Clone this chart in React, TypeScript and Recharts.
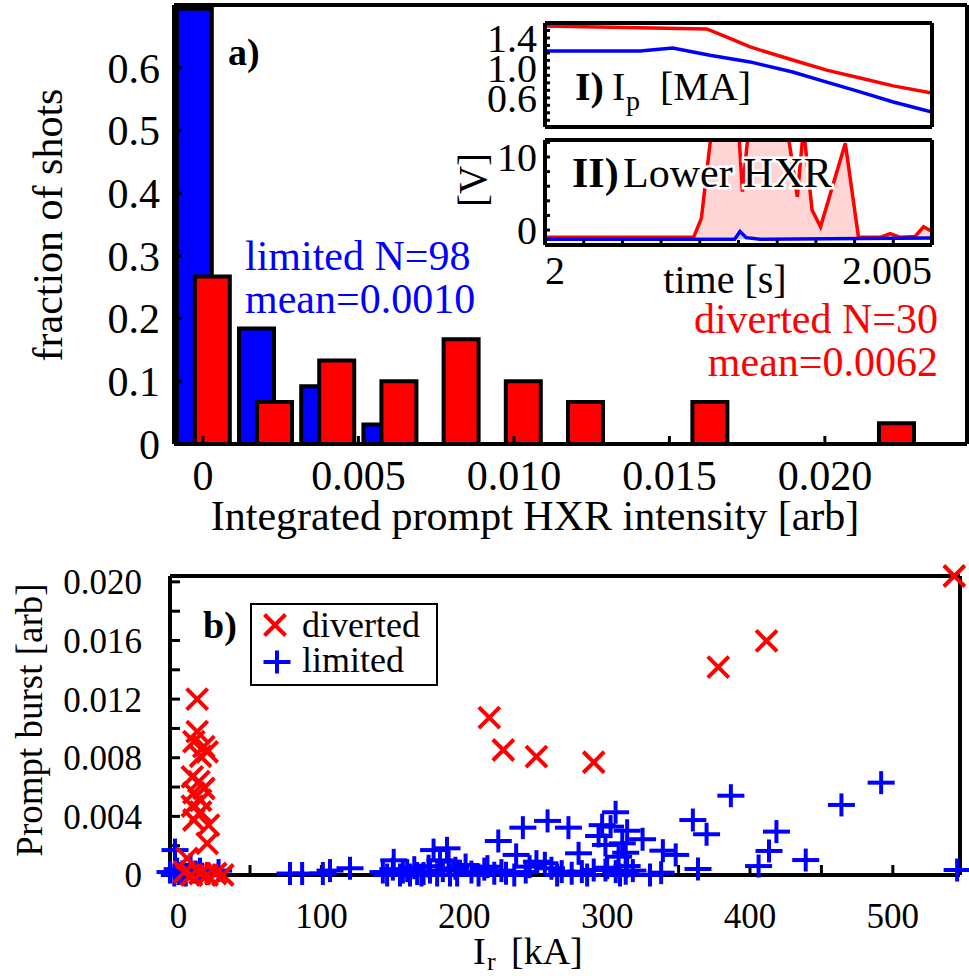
import React from 'react';
import {
  Bar, XAxis, YAxis, ScatterChart, Scatter, LineChart, Line,
  ComposedChart, Area, Legend,
} from 'recharts';

const FONT = "'Liberation Serif', 'Times New Roman', Times, serif";
const RED = '#ff0000';
const BLUE = '#0000ff';
const PINK = '#ffd4d4';
const LIGHTBLUE = '#c8c8ff';

// ---------- Panel a: histogram of integrated prompt HXR intensity ----------
const HIST_BINS = [0, 0.002, 0.004, 0.006, 0.008, 0.010, 0.012, 0.014, 0.016, 0.018, 0.020, 0.022];
const HIST_LIMITED = [0.694, 0.184, 0.092, 0.031, null, null, null, null, null, null, null, null];
const HIST_DIVERTED = [0.267, 0.067, 0.133, 0.100, 0.167, 0.100, 0.067, null, 0.067, null, null, 0.033];
const HIST_X_TICKS = [0, 0.005, 0.010, 0.015, 0.020];
const HIST_X_DOMAIN = [-0.00093, 0.02457];
const HIST_Y_TICKS = [0, 0.1, 0.2, 0.3, 0.4, 0.5, 0.6];
const HIST_Y_DOMAIN = [0, 0.7];

// ---------- Inset I: plasma current [MA] vs time [s] ----------
const TIME_DOMAIN = [2.0, 2.005];
const TIME_TICKS = [2.0, 2.0005, 2.001, 2.0015, 2.002, 2.0025, 2.003, 2.0035, 2.004, 2.0045, 2.005];
const IP_DOMAIN = [0.21, 1.6];
const IP_TICKS = [0.3, 0.4, 0.5, 0.6, 0.7, 0.8, 0.9, 1.0, 1.1, 1.2, 1.3, 1.4, 1.5];
const IP_LABELED = [0.6, 1.0, 1.4];
const IP_DIVERTED = [
  [2.0, 1.56], [2.00209, 1.52], [2.00235, 1.41], [2.00265, 1.28], [2.0032, 1.105],
  [2.00364, 0.97], [2.00407, 0.865], [2.0045, 0.76], [2.005, 0.664],
];
const IP_LIMITED = [
  [2.0, 1.226], [2.00123, 1.226], [2.00165, 1.266], [2.00213, 1.17], [2.00265, 1.08],
  [2.0032, 0.945], [2.00364, 0.81], [2.00407, 0.68], [2.0045, 0.544], [2.005, 0.41],
];

// ---------- Inset II: lower HXR [V] vs time [s] ----------
const HXR_DOMAIN = [-2.05, 12.33];
const HXR_TICKS = [0, 2, 4, 6, 8, 10, 12];
const HXR_LABELED = [0, 10];
const HXR_DIVERTED = [
  [2.0, -1], [2.00192, -1], [2.00202, 1.6], [2.0022, 18], [2.00236, 20], [2.00249, 16],
  [2.00255, 5.25], [2.00267, 18], [2.00291, 22], [2.0031, 16], [2.00326, 4.56], [2.00334, 14],
  [2.00345, 2.74], [2.00356, 0.45], [2.00388, 11.9], [2.00405, -1], [2.00433, -1], [2.00446, -0.5],
  [2.00459, -1], [2.00478, -0.9], [2.00489, 0.45], [2.005, -0.2],
];
const HXR_LIMITED = [
  [2.0, -1.25], [2.00245, -1.25], [2.00252, -0.2], [2.0026, -1.05], [2.00278, -1.25], [2.005, -1.1],
];

// ---------- Panel b: prompt burst vs runaway current ----------
const SC_X_DOMAIN = [-6, 547];
const SC_X_TICKS = [0, 50, 100, 150, 200, 250, 300, 350, 400, 450, 500];
const SC_Y_DOMAIN = [0, 0.0204];
const SC_Y_TICKS = [0, 0.002, 0.004, 0.006, 0.008, 0.010, 0.012, 0.014, 0.016, 0.018, 0.020];

// [I_r kA, prompt burst]
const DIVERTED_POINTS = [
  [543, 0.0204], [411.6, 0.01597], [377.8, 0.01418], [217.5, 0.01074], [227.3, 0.00853],
  [250.5, 0.00808], [290.6, 0.00769], [13, 0.0120], [13, 0.00978], [10.7, 0.0091],
  [17.7, 0.00876], [20, 0.0084], [15.4, 0.0081], [9.6, 0.0067], [14.2, 0.00637],
  [17.7, 0.0059], [10.7, 0.0056], [15.4, 0.0051], [9.6, 0.0047], [15.4, 0.0043],
  [10.7, 0.00375], [21, 0.0034], [20, 0.00216], [6, 0.00114], [4, 0.0002],
  [9, 0.0], [15, 0.0001], [20, 0.0], [26, 0.0001], [31, 0.0],
];
const LIMITED_POINTS = [
  [491.8, 0.0063], [464, 0.00478], [386.6, 0.00541], [360, 0.00375], [369.6, 0.00278],
  [418.5, 0.00296], [413.3, 0.00164], [439, 0.00102], [339, 0.00166], [348, 0.00137],
  [305.9, 0.00428], [302.4, 0.0033], [314, 0.00302], [324.8, 0.00244], [294, 0.00266],
  [310.6, 0.00216], [298.8, 0.00205], [313, 0.00152], [308, 0.00125], [280, 0.00148],
  [272.9, 0.00323], [258.3, 0.00369], [241, 0.00323], [223.8, 0.00232], [236.3, 0.00137],
  [187.9, 0.00182], [178.5, 0.0017], [-2.5, 0.0017], [296.5, 0.0034], [150.6, 0.001],
  [183, 0.001], [406, 0.00061], [363.6, 0.00041], [545, 0.00034], [337.8, 0.00016],
  [314, 0.00061], [306, 0.00023], [298.8, 0.00034], [313, 0.00012], [250.5, 0.00091],
  [245.7, 0.00057], [256.4, 0.0008], [189, 0.00091], [193.8, 0.00046], [200.9, 0.00068],
  [216.2, 0.00057], [221, 0.00012], [229.2, 0.00012], [261, 0.00046], [268.2, 0.00023],
  [275.2, 0.00012], [282.3, 0.00023], [290.6, 0.00034], [-6, 0.0002], [2.6, 0.0002],
  [8.4, 0.0007], [12, 0.0002], [28, 0.0003], [-3, 0.0], [78, 0.0001],
  [86.5, 0.0001], [106, 0.0003], [120, 0.00046], [101, 0.0001], [143, 0.0002],
  [157, 0.0002], [167, 0.0001], [176, 0.0002], [146, 0.0], [162, 0.0],
  [171.5, 0.0001], [181, 0.0], [0, 0.0001], [5, 0.0], [15, 0.0004],
  [20, 0.0001], [-1, 0.0004], [150, 0.0004], [155, 0.0], [160, 0.0003],
  [165, 0.0005], [170, 0.0], [185, 0.0003], [195, 0.0], [205, 0.0002],
  [210, 0.0], [214, 0.0004], [226, 0.0003], [235, 0.0], [243, 0.0002],
  [265, 0.0], [286, 0.0], [300, 0.0005], [309, 0.0], [318, 0.0003],
  [330, 0.0], [175, 0.0006], [190, 0.0],
];

const AXIS = { stroke: '#000', strokeWidth: 4 };
const TICKLINE = { stroke: '#000', strokeWidth: 3 };
const tickStyle = (size: number) => ({ fontSize: size, fill: '#000', fontFamily: FONT });

const near = (a: number, b: number) => Math.abs(a - b) < 1e-9;
const fmtHistX = (v: number) => (near(v, 0) ? '0' : v.toFixed(3));
const fmtHistY = (v: number) => (near(v, 0) ? '0' : v.toFixed(1));
const fmtIp = (v: number) => (IP_LABELED.some((l) => near(l, v)) ? v.toFixed(1) : '');
const fmtHxr = (v: number) => (HXR_LABELED.some((l) => near(l, v)) ? String(v) : '');
const fmtIr = (v: number) => (v % 100 === 0 ? String(v) : '');
const fmtBurst = (v: number) => {
  const k = Math.round(v * 1000);
  if (k === 0) return '0';
  return k % 4 === 0 ? v.toFixed(3) : '';
};

const TimeTick = (props: any) => {
  const { x, y, payload } = props;
  const v = payload.value;
  if (near(v, TIME_DOMAIN[0])) {
    return <text x={x} y={y} dy="0.71em" textAnchor="start" fontSize={40} fontFamily={FONT} fill="#000">2</text>;
  }
  if (near(v, TIME_DOMAIN[1])) {
    return <text x={x} y={y} dy="0.71em" textAnchor="end" fontSize={40} fontFamily={FONT} fill="#000">2.005</text>;
  }
  return <g />;
};

const CrossShape = (props: any) => {
  const { cx, cy } = props;
  const r = 10.5;
  return (
    <g>
      <line x1={cx - r} y1={cy - r} x2={cx + r} y2={cy + r} stroke={RED} strokeWidth={4} />
      <line x1={cx - r} y1={cy + r} x2={cx + r} y2={cy - r} stroke={RED} strokeWidth={4} />
    </g>
  );
};

const PlusShape = (props: any) => {
  const { cx, cy } = props;
  return (
    <g>
      <line x1={cx - 13.5} y1={cy} x2={cx + 13.5} y2={cy} stroke={BLUE} strokeWidth={4} />
      <line x1={cx} y1={cy - 11.5} x2={cx} y2={cy + 11.5} stroke={BLUE} strokeWidth={4} />
    </g>
  );
};

const NoShape = () => <g />;

const LegendBox = () => (
  <svg width={188} height={83} style={{ display: 'block' }}>
    <rect x={1} y={1} width={186} height={81} fill="#fff" stroke="#000" strokeWidth={2} />
    <CrossShape cx={25} cy={22} />
    <text x={52} y={34} fontSize={36} fontFamily={FONT} fill="#000">diverted</text>
    <PlusShape cx={27} cy={59} />
    <text x={52} y={69} fontSize={36} fontFamily={FONT} fill="#000">limited</text>
  </svg>
);

export default function App() {
  const histData = HIST_BINS.map((b, i) => ({ bin: b, limited: HIST_LIMITED[i], diverted: HIST_DIVERTED[i] }));
  const ipDiv = IP_DIVERTED.map(([t, v]) => ({ t, v }));
  const ipLim = IP_LIMITED.map(([t, v]) => ({ t, v }));
  const hxrDiv = HXR_DIVERTED.map(([t, v]) => ({ t, v }));
  const hxrLim = HXR_LIMITED.map(([t, v]) => ({ t, v }));
  const divPts = DIVERTED_POINTS.map(([ir, burst]) => ({ ir, burst }));
  const limPts = LIMITED_POINTS.map(([ir, burst]) => ({ ir, burst }));

  return (
    <div style={{ position: 'absolute', left: 0, top: 0, width: 969, height: 976, background: '#fff', overflow: 'hidden' }}>
      {/* Panel a */}
      <div style={{ position: 'absolute', left: 0, top: 0 }}>
        <ComposedChart width={969} height={545} data={histData} margin={{ top: 4, right: 0, bottom: 0, left: 0 }} barSize={35} barGap={-17}>
          <XAxis xAxisId="num" dataKey="bin" type="number" domain={HIST_X_DOMAIN} allowDataOverflow ticks={HIST_X_TICKS}
            tickFormatter={fmtHistX} height={101} tickSize={-8} tickMargin={24} interval={0}
            axisLine={AXIS} tickLine={TICKLINE} tick={tickStyle(42)} />
          <XAxis xAxisId="numTop" dataKey="bin" orientation="top" type="number" domain={HIST_X_DOMAIN} allowDataOverflow
            ticks={HIST_X_TICKS} height={1} tickSize={-8} tick={false} interval={0} axisLine={AXIS} tickLine={TICKLINE} />
          <YAxis yAxisId="frac" type="number" domain={HIST_Y_DOMAIN} ticks={HIST_Y_TICKS} tickFormatter={fmtHistY}
            width={174} tickSize={-8} tickMargin={22} interval={0} axisLine={AXIS} tickLine={TICKLINE} tick={tickStyle(42)} />
          <YAxis yAxisId="fracR" orientation="right" type="number" domain={HIST_Y_DOMAIN} allowDataOverflow
            ticks={HIST_Y_TICKS} width={2} tickSize={-9} tick={false} interval={0} axisLine={AXIS} tickLine={TICKLINE} />
          <Line xAxisId="numTop" yAxisId="fracR" dataKey="diverted" stroke="none" dot={false} activeDot={false} isAnimationActive={false} />
          <Bar xAxisId="num" yAxisId="frac" dataKey="limited" fill={BLUE} stroke="#000" strokeWidth={4} isAnimationActive={false} />
          <Bar xAxisId="num" yAxisId="frac" dataKey="diverted" fill={RED} stroke="#000" strokeWidth={4} isAnimationActive={false} />
        </ComposedChart>
      </div>

      {/* Inset I: Ip */}
      <div style={{ position: 'absolute', left: 455, top: 13 }}>
        <LineChart width={490} height={125} margin={{ top: 9, right: 0, bottom: 0, left: 0 }}>
          <XAxis xAxisId="t" dataKey="t" type="number" domain={TIME_DOMAIN} allowDataOverflow ticks={TIME_TICKS}
            height={11} tickSize={-5} tick={false} interval={0} axisLine={AXIS} tickLine={TICKLINE} />
          <XAxis xAxisId="tTop" dataKey="t" orientation="top" type="number" domain={TIME_DOMAIN} allowDataOverflow ticks={TIME_TICKS}
            height={1} tickSize={-5} tick={false} interval={0} axisLine={AXIS} tickLine={TICKLINE} />
          <YAxis yAxisId="ip" type="number" domain={IP_DOMAIN} allowDataOverflow ticks={IP_TICKS} tickFormatter={fmtIp}
            width={90} tickSize={-5} tickMargin={13} interval={0} axisLine={AXIS} tickLine={TICKLINE} tick={tickStyle(40)} />
          <YAxis yAxisId="ipR" orientation="right" type="number" domain={IP_DOMAIN} allowDataOverflow ticks={IP_TICKS}
            width={13} tickSize={-5} tick={false} interval={0} axisLine={AXIS} tickLine={TICKLINE} />
          <Line xAxisId="tTop" yAxisId="ipR" data={ipLim} dataKey="v" stroke="none" dot={false} activeDot={false} isAnimationActive={false} />
          <Line xAxisId="t" yAxisId="ip" data={ipDiv} dataKey="v" type="linear" stroke={RED} strokeWidth={3.5} dot={false} isAnimationActive={false} />
          <Line xAxisId="t" yAxisId="ip" data={ipLim} dataKey="v" type="linear" stroke={BLUE} strokeWidth={3.5} dot={false} isAnimationActive={false} />
        </LineChart>
      </div>

      {/* Inset II: lower HXR */}
      <div style={{ position: 'absolute', left: 455, top: 130 }}>
        <ComposedChart width={490} height={180} margin={{ top: 9, right: 0, bottom: 0, left: 0 }}>
          <XAxis xAxisId="t" dataKey="t" type="number" domain={TIME_DOMAIN} allowDataOverflow ticks={TIME_TICKS}
            height={65} tickSize={-5} tickMargin={16} interval={0} axisLine={AXIS} tickLine={TICKLINE} tick={<TimeTick />} />
          <XAxis xAxisId="tTop" dataKey="t" orientation="top" type="number" domain={TIME_DOMAIN} allowDataOverflow ticks={TIME_TICKS}
            height={1} tickSize={-5} tick={false} interval={0} axisLine={AXIS} tickLine={TICKLINE} />
          <YAxis yAxisId="h" type="number" domain={HXR_DOMAIN} allowDataOverflow ticks={HXR_TICKS} tickFormatter={fmtHxr}
            width={90} tickSize={-5} tickMargin={13} interval={0} axisLine={AXIS} tickLine={TICKLINE} tick={tickStyle(40)} />
          <YAxis yAxisId="hR" orientation="right" type="number" domain={HXR_DOMAIN} allowDataOverflow ticks={HXR_TICKS}
            width={13} tickSize={-5} tick={false} interval={0} axisLine={AXIS} tickLine={TICKLINE} />
          <Line xAxisId="tTop" yAxisId="hR" data={hxrLim} dataKey="v" stroke="none" dot={false} activeDot={false} isAnimationActive={false} />
          <Area xAxisId="t" yAxisId="h" data={hxrDiv} dataKey="v" type="linear" baseValue={-1} stroke={RED} strokeWidth={3.5}
            fill={PINK} fillOpacity={1} dot={false} isAnimationActive={false} />
          <Area xAxisId="t" yAxisId="h" data={hxrLim} dataKey="v" type="linear" baseValue={-1.25} stroke={BLUE} strokeWidth={3.5}
            fill={LIGHTBLUE} fillOpacity={1} dot={false} isAnimationActive={false} />
        </ComposedChart>
      </div>

      {/* Panel b */}
      <div style={{ position: 'absolute', left: 0, top: 540 }}>
        <ScatterChart width={969} height={436} margin={{ top: 35, right: 8, bottom: 0, left: 0 }}>
          <XAxis xAxisId="ir" dataKey="ir" type="number" domain={SC_X_DOMAIN} ticks={SC_X_TICKS} tickFormatter={fmtIr}
            height={101} tickSize={-10} tickMargin={38} interval={0} axisLine={AXIS} tickLine={TICKLINE} tick={tickStyle(35)} />
          <XAxis xAxisId="irTop" dataKey="ir" orientation="top" type="number" domain={SC_X_DOMAIN} allowDataOverflow ticks={SC_X_TICKS}
            height={1} tickSize={-10} tick={false} interval={0} axisLine={AXIS} tickLine={TICKLINE} />
          <YAxis yAxisId="pb" dataKey="burst" type="number" domain={SC_Y_DOMAIN} ticks={SC_Y_TICKS} tickFormatter={fmtBurst}
            width={170} tickSize={-10} tickMargin={38} interval={0} axisLine={AXIS} tickLine={TICKLINE} tick={tickStyle(35)} />
          <YAxis yAxisId="pbR" dataKey="burst" orientation="right" type="number" domain={SC_Y_DOMAIN} allowDataOverflow ticks={SC_Y_TICKS}
            width={1} tickSize={-10} tick={false} interval={0} axisLine={AXIS} tickLine={TICKLINE} />
          <Scatter name="frame" xAxisId="irTop" yAxisId="pbR" data={limPts} shape={NoShape} isAnimationActive={false} legendType="none" />
          <Scatter name="limited" xAxisId="ir" yAxisId="pb" data={limPts} shape={(p: any) => <PlusShape {...p} />} isAnimationActive={false} />
          <Scatter name="diverted" xAxisId="ir" yAxisId="pb" data={divPts} shape={(p: any) => <CrossShape {...p} />} isAnimationActive={false} />
          <Legend layout="vertical" align="center" verticalAlign="middle"
            wrapperStyle={{ left: 250, top: 63, width: 188, height: 83 }} content={() => <LegendBox />} />
        </ScatterChart>
      </div>

      {/* Annotations */}
      <svg width={969} height={976} style={{ position: 'absolute', left: 0, top: 0, pointerEvents: 'none' }} fontFamily={FONT}>
        <text x={228} y={65} fontSize={38} fontWeight="bold" fill="#000">a)</text>
        <text x={245} y={270} fontSize={42} fill={BLUE}>limited N=98</text>
        <text x={245} y={313} fontSize={42} fill={BLUE}>mean=0.0010</text>
        <text x={938} y={333} fontSize={42} fill={RED} textAnchor="end">diverted N=30</text>
        <text x={938} y={376} fontSize={42} fill={RED} textAnchor="end">mean=0.0062</text>
        <text x={535} y={530} fontSize={42} fill="#000" textAnchor="middle">Integrated prompt HXR intensity [arb]</text>
        <text transform="translate(62,225) rotate(-90)" fontSize={42} fill="#000" textAnchor="middle">fraction of shots</text>

        <text x={575} y={100} fontSize={40} fontWeight="bold" fill="#000">I)</text>
        <text x={612} y={100} fontSize={40} fill="#000">I</text>
        <text x={626} y={110} fontSize={28} fill="#000">p</text>
        <text x={660} y={100} fontSize={40} fill="#000">[MA]</text>

        <text x={572} y={187} fontSize={42} fontWeight="bold" fill="#000" stroke="#fff" strokeWidth={5} paintOrder="stroke">II)</text>
        <text x={623} y={187} fontSize={42} fill="#000" stroke="#fff" strokeWidth={5} paintOrder="stroke">Lower HXR</text>
        <text transform="translate(486,180) rotate(-90)" fontSize={39} fill="#000" textAnchor="middle">[V]</text>
        <text x={725} y={293} fontSize={40} fill="#000" textAnchor="middle">time [s]</text>

        <text x={203} y={638} fontSize={38} fontWeight="bold" fill="#000">b)</text>
        <text transform="translate(42,720) rotate(-90)" fontSize={37} fill="#000" textAnchor="middle">Prompt burst [arb]</text>
        <text x={473} y={964} fontSize={38} fill="#000">I</text>
        <text x={487} y={970} fontSize={26} fill="#000">r</text>
        <text x={511} y={964} fontSize={38} fill="#000">[kA]</text>
      </svg>
    </div>
  );
}
